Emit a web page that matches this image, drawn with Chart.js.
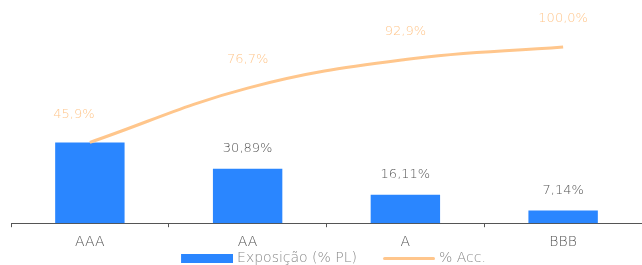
<!DOCTYPE html>
<html>
<head>
<meta charset="utf-8">
<script src="https://cdn.jsdelivr.net/npm/chart.js@4/dist/chart.umd.min.js"></script>
<style>
html,body{margin:0;padding:0;background:#fff;}
#wrap{width:642px;height:265px;position:relative;}
</style>
</head>
<body>
<div id="wrap"><canvas id="c"></canvas></div>
<script>
const categories = ['AAA', 'AA', 'A', 'BBB'];
const exposicao = [45.86, 30.89, 16.11, 7.14];
const acumulado = [45.9, 76.7, 92.9, 100.0];
const seriesNames = ['Exposição (% PL)', '% Acc.'];

const FONT = '"DejaVu Sans", sans-serif';
const BLUE = '#2A86FF';
const ORANGE = '#FFC68C';

// legend symbols (drawn right-aligned inside a wider canvas to get the legend spacing)
const SYM_W = 52, SYM_PAD = 28, SYM_CW = SYM_W + SYM_PAD;
function makeSymbol(kind) {
  const c = document.createElement('canvas');
  c.width = SYM_CW; c.height = 10;
  const g = c.getContext('2d');
  if (kind === 'rect') {
    g.fillStyle = BLUE;
    g.fillRect(SYM_PAD, 1, SYM_W, 9);
  } else {
    g.strokeStyle = ORANGE;
    g.lineWidth = 3;
    g.lineCap = 'round';
    g.beginPath();
    g.moveTo(SYM_PAD + 1.5, 5.5);
    g.lineTo(SYM_CW - 1.5, 5.5);
    g.stroke();
  }
  return c;
}

const labelPlugin = {
  id: 'valueLabels',
  afterDatasetsDraw(chart) {
    const ctx = chart.ctx;
    ctx.save();
    ctx.font = '300 13px ' + FONT;
    ctx.textAlign = 'center';
    ctx.textBaseline = 'middle';
    const barMeta = chart.getDatasetMeta(0);
    barMeta.data.forEach((el, i) => {
      if (i === 0) return;
      ctx.fillStyle = '#555';
      ctx.fillText(exposicao[i].toFixed(2).replace('.', ',') + '%', el.x, el.y - 20);
    });
    const lineMeta = chart.getDatasetMeta(1);
    lineMeta.data.forEach((el, i) => {
      ctx.fillStyle = ORANGE;
      const dx = i === 0 ? -16 : 0;
      ctx.fillText(acumulado[i].toFixed(1).replace('.', ',') + '%', el.x + dx, el.y - 28);
    });
    ctx.restore();
  }
};

new Chart(document.getElementById('c'), {
  data: {
    labels: categories,
    datasets: [
      {
        type: 'bar',
        label: seriesNames[0],
        data: exposicao,
        backgroundColor: BLUE,
        borderWidth: 0,
        barPercentage: 0.44,
        categoryPercentage: 1,
        pointStyle: makeSymbol('rect'),
        order: 2
      },
      {
        type: 'line',
        label: seriesNames[1],
        data: acumulado,
        borderColor: ORANGE,
        backgroundColor: ORANGE,
        borderWidth: 3,
        pointRadius: 0,
        tension: 0.4,
        pointStyle: makeSymbol('line'),
        order: 1
      }
    ]
  },
  options: {
    responsive: true,
    maintainAspectRatio: false,
    animation: false,
    layout: { padding: { left: 0, right: 0, top: 3, bottom: -10 } },
    plugins: {
      legend: {
        position: 'bottom',
        labels: {
          usePointStyle: true,
          pointStyleWidth: 74,
          boxHeight: 10,
          padding: 1,
          color: '#888',
          font: { family: FONT, size: 14, weight: 300 },
          sort: (a, b) => a.datasetIndex - b.datasetIndex
        }
      },
      tooltip: { enabled: false }
    },
    scales: {
      x: {
        offset: true,
        afterFit: (scale) => { scale.height -= 8; },
        grid: { display: true, drawOnChartArea: false, offset: true, tickLength: 4, color: '#555' },
        border: { display: true, color: '#555', width: 1 },
        ticks: { color: '#555', padding: 7, font: { family: FONT, size: 14, weight: 300 } }
      },
      y: {
        display: true,
        min: 0,
        max: 125,
        afterFit: (scale) => { scale.width = 11; },
        grid: { display: false },
        border: { display: false },
        ticks: { display: false }
      }
    }
  },
  plugins: [labelPlugin]
});
</script>
</body>
</html>
